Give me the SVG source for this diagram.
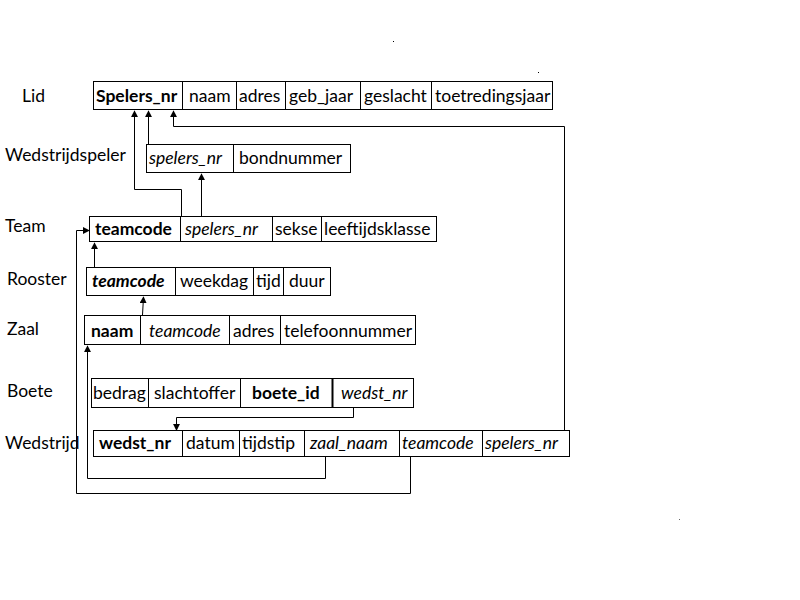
<svg xmlns="http://www.w3.org/2000/svg" width="800" height="600" viewBox="0 0 800 600">
<defs>
<style>
text{font-family:Lato,"Open Sans","Liberation Sans",sans-serif;font-size:17.5px;fill:#000}
.b{font-weight:bold}
.i{font-style:italic}
.box{fill:#fff;stroke:#000;stroke-width:1}
.div{stroke:#000;stroke-width:1}
.c{fill:none;stroke:#000;stroke-width:1}
</style>
<marker id="ah" viewBox="0 0 8 8" refX="7" refY="4" markerWidth="7" markerHeight="7" markerUnits="userSpaceOnUse" orient="auto">
<path d="M0,0 L8,4 L0,8 Z" fill="#000"/>
</marker>
</defs>
<rect width="800" height="600" fill="#fff"/>

<g id="labels">
<text x="22" y="102">Lid</text>
<text x="5" y="161">Wedstrijdspeler</text>
<text x="5" y="232">Team</text>
<text x="7" y="285">Rooster</text>
<text x="7" y="335">Zaal</text>
<text x="7" y="397">Boete</text>
<text x="5" y="449">Wedstrijd</text>
</g>

<g id="lid">
<rect class="box" x="93.5" y="81.5" width="459" height="28"/>
<path class="div" d="M182.5,81.5V109.5M236.5,81.5V109.5M285.5,81.5V109.5M360.5,81.5V109.5M431.5,81.5V109.5"/>
<text class="b" x="96" y="102">Spelers_nr</text>
<text x="189" y="102">naam</text>
<text x="239" y="102">adres</text>
<text x="289" y="102">geb_jaar</text>
<text x="364" y="102">geslacht</text>
<text x="435" y="102">toetredingsjaar</text>
</g>

<g id="wedstrijdspeler">
<rect class="box" x="146.5" y="144.5" width="204" height="28"/>
<path class="div" d="M233.5,144.5V172.5"/>
<text class="i" x="149" y="164">spelers_nr</text>
<text x="239" y="164">bondnummer</text>
</g>

<g id="team">
<rect class="box" x="89.5" y="216.5" width="347" height="25"/>
<path class="div" d="M180.5,216.5V241.5M272.5,216.5V241.5M321.5,216.5V241.5"/>
<text class="b" x="95" y="235">teamcode</text>
<text class="i" x="185" y="235">spelers_nr</text>
<text x="275" y="235">sekse</text>
<text x="324" y="235">leeftijdsklasse</text>
</g>

<g id="rooster">
<rect class="box" x="86.5" y="267.5" width="244" height="28"/>
<path class="div" d="M175.5,267.5V295.5M253.5,267.5V295.5M283.5,267.5V295.5"/>
<text class="b i" x="92" y="287">teamcode</text>
<text x="180" y="287">weekdag</text>
<text x="256" y="287">tijd</text>
<text x="289" y="287">duur</text>
</g>

<g id="zaal">
<rect class="box" x="84.5" y="315.5" width="331" height="29"/>
<path class="div" d="M140.5,315.5V344.5M229.5,315.5V344.5M280.5,315.5V344.5"/>
<text class="b" x="91" y="337">naam</text>
<text class="i" x="149" y="337">teamcode</text>
<text x="233" y="337">adres</text>
<text x="284" y="337">telefoonnummer</text>
</g>

<g id="boete">
<rect class="box" x="91.5" y="378.5" width="322" height="29"/>
<path class="div" d="M148.5,378.5V407.5M240.5,378.5V407.5"/>
<path d="M332.5,378V408" stroke="#000" stroke-width="2"/>
<text x="93" y="399">bedrag</text>
<text x="154" y="399">slachtoffer</text>
<text class="b" x="252" y="399">boete_id</text>
<text class="i" x="341" y="399">wedst_nr</text>
</g>

<g id="wedstrijd">
<rect class="box" x="93.5" y="430.5" width="476" height="26"/>
<path class="div" d="M182.5,430.5V456.5M239.5,430.5V456.5M304.5,430.5V456.5M399.5,430.5V456.5M482.5,430.5V456.5"/>
<text class="b" x="99" y="449">wedst_nr</text>
<text x="186" y="449">datum</text>
<text x="242" y="449">tijdstip</text>
<text class="i" x="310" y="449">zaal_naam</text>
<text class="i" x="402" y="449">teamcode</text>
<text class="i" x="485" y="449">spelers_nr</text>
</g>

<g id="connectors">
<path class="c" d="M181.5,216V189.5H134.5V111" marker-end="url(#ah)"/>
<path class="c" d="M148.5,144V111" marker-end="url(#ah)"/>
<path class="c" d="M564.5,430V126.5H173.5V111" marker-end="url(#ah)"/>
<path class="c" d="M201.5,216V174" marker-end="url(#ah)"/>
<path class="c" d="M94.5,267V243" marker-end="url(#ah)"/>
<path class="c" d="M142.5,315L143.5,297" marker-end="url(#ah)"/>
<path class="c" d="M325.5,456V478.5H87.5V346" marker-end="url(#ah)"/>
<path class="c" d="M410.5,456V493.5H76.5V230.5H89" marker-end="url(#ah)"/>
<path class="c" d="M353.5,407V417.5H176.5V430" marker-end="url(#ah)"/>
</g>

<g id="specks">
<rect x="393" y="41" width="1" height="1" fill="#000"/>
<rect x="538" y="72" width="1" height="1" fill="#000"/>
<rect x="679" y="519" width="1" height="1" fill="#666"/>
</g>
</svg>
